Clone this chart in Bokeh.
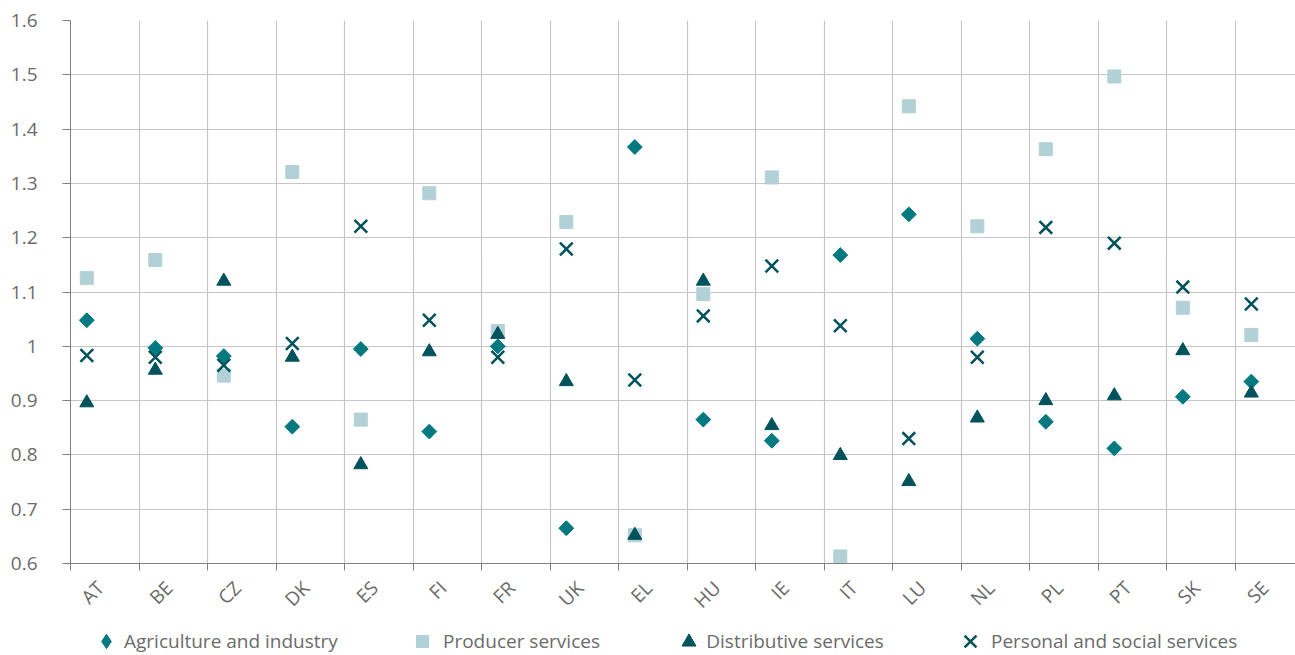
import math
from bokeh.plotting import figure
from bokeh.layouts import column
from bokeh.models import (Range1d, FixedTicker, Grid, Legend, LegendItem,
                          CustomJSTickFormatter, LinearAxis)
from bokeh.embed import file_html
from bokeh.resources import INLINE

countries = ["AT", "BE", "CZ", "DK", "ES", "FI", "FR", "UK", "EL", "HU",
             "IE", "IT", "LU", "NL", "PL", "PT", "SK", "SE"]
agriculture = [1.048, 0.997, 0.982, 0.852, 0.995, 0.843, 1.000, 0.665, 1.367,
               0.865, 0.826, 1.168, 1.243, 1.014, 0.861, 0.812, 0.907, 0.935]
producer = [1.126, 1.159, 0.946, 1.321, 0.865, 1.282, 1.028, 1.229, 0.652,
            1.096, 1.311, 0.613, 1.442, 1.221, 1.363, 1.497, 1.071, 1.021]
distributive = [0.896, 0.956, 1.120, 0.980, 0.782, 0.990, 1.022, 0.935, 0.652,
                1.120, 0.854, 0.799, 0.751, 0.868, 0.900, 0.909, 0.992, 0.914]
personal = [0.983, 0.980, 0.965, 1.005, 1.221, 1.048, 0.980, 1.179, 0.938,
            1.056, 1.148, 1.038, 0.830, 0.980, 1.219, 1.190, 1.109, 1.078]
series_names = ["Agriculture and industry", "Producer services",
                "Distributive services", "Personal and social services"]
y_ticks = [0.6, 0.7, 0.8, 0.9, 1.0, 1.1, 1.2, 1.3, 1.4, 1.5, 1.6]

FONT = "Open Sans"
TXT = "#6b6b6b"
C_AGR, C_PRO, C_DIS, C_PER = "#007a80", "#b2d1d6", "#00525c", "#00525c"
xs = list(range(len(countries)))
OFF = 0.238
LAB = 0.2
LEFT = 70

p = figure(width=1295, height=625, output_backend="svg", toolbar_location=None,
           x_range=Range1d(-OFF, 17.645), y_range=Range1d(0.6, 1.6),
           min_border_left=LEFT, min_border_top=20, min_border_bottom=61,
           min_border_right=0, x_axis_type=None, y_axis_type=None)
p.outline_line_color = None
p.background_fill_color = "white"
p.border_fill_color = "white"

# y axis
yax = LinearAxis(ticker=FixedTicker(ticks=y_ticks, minor_ticks=[]),
                 formatter=CustomJSTickFormatter(code="return (Math.round(tick*10)/10).toString();"))
yax.axis_line_color = "#7f7f7f"
yax.major_tick_line_color = "#7f7f7f"
yax.major_tick_in = 0
yax.major_tick_out = 8
yax.minor_tick_line_color = None
yax.major_label_text_font = FONT
yax.major_label_text_font_size = "19px"
yax.major_label_text_color = TXT
yax.major_label_standoff = 25
p.add_layout(yax, "left")

# x axis
bounds = [i - OFF for i in range(len(countries))]
xax = LinearAxis(ticker=FixedTicker(ticks=[i + LAB for i in xs], minor_ticks=bounds),
                 formatter=CustomJSTickFormatter(args=dict(labels=countries, lab=LAB),
                                                 code="return labels[Math.round(tick - lab)];"))
xax.axis_line_color = "#7f7f7f"
xax.major_tick_line_color = None
xax.minor_tick_line_color = "#7f7f7f"
xax.minor_tick_in = 0
xax.minor_tick_out = 7
xax.major_label_orientation = math.pi / 4
xax.major_label_text_font = FONT
xax.major_label_text_font_size = "19px"
xax.major_label_text_color = TXT
xax.major_label_standoff = 14
p.add_layout(xax, "below")

p.add_layout(Grid(dimension=0, ticker=FixedTicker(ticks=bounds[1:]),
                  grid_line_color="#c6c6c6", grid_line_width=1.2))
p.add_layout(Grid(dimension=1, ticker=FixedTicker(ticks=y_ticks[1:]),
                  grid_line_color="#c6c6c6", grid_line_width=1.2))

p.scatter(xs, agriculture, marker="square", angle=math.pi / 4, size=10.5, color=C_AGR)
p.scatter(xs, producer, marker="square", size=13, color=C_PRO)
p.scatter(xs, distributive, marker="triangle", size=14, color=C_DIS)
p.scatter(xs, personal, marker="x", size=18, line_color=C_PER, line_width=2.5)

# legend strip (separate figure; legend proxies hold one NaN point, never drawn)
p2 = figure(width=1295, height=30, output_backend="svg", toolbar_location=None,
            x_range=Range1d(0, 1), y_range=Range1d(0, 1), min_border=0,
            min_border_left=LEFT, x_axis_type=None, y_axis_type=None)
p2.outline_line_color = None
p2.background_fill_color = "white"
p2.border_fill_color = "white"

nan = [float("nan")]
proxies = [
    p2.scatter(nan, nan, marker="diamond", color=C_AGR),
    p2.scatter(nan, nan, marker="square", color=C_PRO),
    p2.scatter(nan, nan, marker="triangle", color=C_DIS),
    p2.scatter(nan, nan, marker="x", line_color=C_PER, line_width=2.5),
]
glyph_box = [36, 30, 35, 42]
centers = [108, 422, 690, 972]
text_start = [122, 443, 705, 989]
mid = 14
for name, r, gb, c, ts in zip(series_names, proxies, glyph_box, centers, text_start):
    gap = ts - c - gb / 2
    start = c - gb / 2
    if gap < 0:
        start += gap / 2
        gap = 0
    lg = Legend(items=[LegendItem(label=name, renderers=[r])],
                location=(start - LEFT, mid - gb / 2), orientation="horizontal",
                glyph_width=gb, glyph_height=gb, label_standoff=int(round(gap)),
                padding=0, margin=0, border_line_color=None, background_fill_alpha=0,
                label_text_font=FONT, label_text_font_size="19px", label_text_color=TXT)
    p2.add_layout(lg, "center")

open("out.html", "w").write(file_html(column(p, p2, spacing=0), INLINE))
